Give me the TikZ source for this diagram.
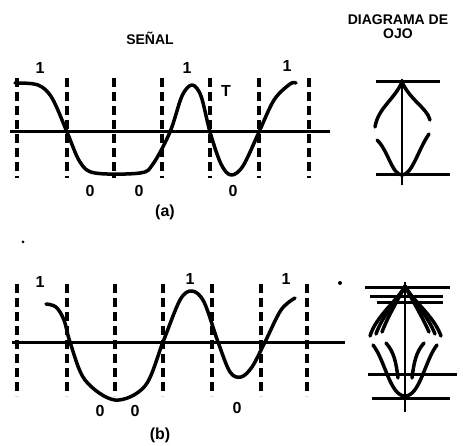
\documentclass[tikz,border=0pt]{standalone}
\usepackage{fontspec}
\setmainfont{Liberation Sans}
\begin{document}
\begin{tikzpicture}[x=1pt,y=-1pt,
    lbl/.style={font=\bfseries\fontsize{16}{16}\selectfont,inner sep=0pt},
    ttl/.style={font=\bfseries\fontsize{14}{14}\selectfont,inner sep=0pt,align=center},
    wave/.style={line width=3.5pt,line cap=round,line join=round},
    bitline/.style={line width=3.5pt,dash pattern=on 9pt off 5pt},
    axisline/.style={line width=3pt},
    eyeline/.style={line width=3pt}]
    \useasboundingbox (0,0) rectangle (463,446);
    % titles
    \node[ttl] (senal) at (150,38) {SEÑAL};
    \node[ttl] (ojo) at (398,27) {DIAGRAMA DE\\OJO};
    % (a) signal
    \draw[axisline] (10,132) -- (330,132);
    \foreach \x in {17,67,114,162,210,259,309}
        \draw[bitline] (\x,78) -- (\x,178);
    \draw[wave] plot[smooth,tension=0.55] coordinates {(15,83) (38,85) (52,98) (67,132) (80,162) (95,173) (140,173) (153,164) (170,132) (182,96) (192,85) (201,96) (210,132) (221,164) (231,175) (243,166) (259,132) (274,100) (290,84) (296,83)};
    \node[lbl] (a1) at (40,68) {1};
    \node[lbl] (a2) at (187,68) {1};
    \node[lbl] (aT) at (226,91) {T};
    \node[lbl] (a3) at (287,66) {1};
    \node[lbl] (a4) at (90,191) {0};
    \node[lbl] (a5) at (139,191) {0};
    \node[lbl] (a6) at (233,191) {0};
    \node[lbl] (acap) at (165,212) {(a)};
    % (a) eye
    \draw[eyeline] (376,82) -- (440,82);
    \draw[eyeline] (376,175) -- (450,175);
    \draw[line width=2pt] (402,79) -- (402,185);
    \draw[wave] (402,82) .. controls (394,100) and (378,108) .. (375,127);
    \draw[wave] (402,82) .. controls (410,100) and (427,108) .. (430,120);
    \draw[wave] (377,140) .. controls (388,150) and (392,175) .. (402,175);
    \draw[wave] (429,134) .. controls (418,150) and (412,175) .. (402,175);
    % (b) signal
    \draw[axisline] (12,342) -- (345,342);
    \foreach \x in {17,67,115,163,212,261,307}
        \draw[bitline] (\x,284) -- (\x,396);
    \draw[wave] plot[smooth,tension=0.55] coordinates {(46,304) (56,307) (64,320) (70,342) (85,380) (115,400) (145,386) (163,342) (180,300) (192,291) (204,302) (218,342) (230,372) (241,377) (252,367) (265,342) (281,310) (295,298)};
    \node[lbl] (b1) at (40,282) {1};
    \node[lbl] (b2) at (190,279) {1};
    \node[lbl] (b3) at (286,279) {1};
    \node[lbl] (b4) at (100,411) {0};
    \node[lbl] (b5) at (135,411) {0};
    \node[lbl] (b6) at (237,408) {0};
    \node[lbl] (bcap) at (160,435) {(b)};
    % (b) eye
    \draw[eyeline] (365,288) -- (450,288);
    \draw[eyeline] (370,297) -- (443,297);
    \draw[eyeline] (377,302) -- (443,302);
    \draw[eyeline] (368,374) -- (457,374);
    \draw[eyeline] (372,398) -- (450,398);
    \draw[line width=2pt] (405,282) -- (405,412);
    \foreach \e in {0,6,12}
        \draw[wave] (405,286) .. controls (398,300) and (376+\e,316) .. (370+\e,336-\e/3);
    \foreach \e in {0,6,12}
        \draw[wave] (405,286) .. controls (412,300) and (434-\e,316) .. (441-\e,336-\e/3);
    \draw[wave] (373,345) .. controls (385,360) and (390,396) .. (405,396);
    \draw[wave] (437,345) .. controls (425,360) and (420,396) .. (405,396);
    \draw[wave] (386,343) .. controls (394,352) and (396,362) .. (398,378);
    \draw[wave] (424,343) .. controls (416,352) and (414,362) .. (412,378);
    % specks
    \fill (23,242) circle (1.5);
    \fill (340,283) circle (2);
\end{tikzpicture}
\end{document}
